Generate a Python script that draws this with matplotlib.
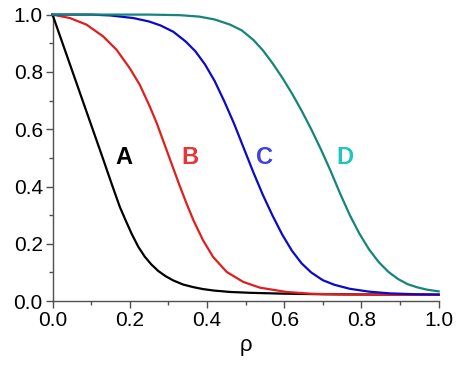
import numpy as np
import matplotlib
matplotlib.use('Agg')
import matplotlib.pyplot as plt
from matplotlib.ticker import MultipleLocator, FormatStrFormatter

# points
rho_a = [0.0, 0.026, 0.052, 0.078, 0.104, 0.130, 0.153, 0.174, 0.190, 0.205, 0.222,
         0.239, 0.256, 0.274, 0.293, 0.313, 0.338, 0.364, 0.390, 0.417, 0.460,
         0.512, 0.600, 0.700, 0.850, 1.0]
val_a = [1.0, 0.90, 0.80, 0.70, 0.60, 0.50, 0.41, 0.33, 0.28, 0.235, 0.19,
         0.155, 0.128, 0.105, 0.087, 0.072, 0.058, 0.049, 0.042, 0.037, 0.032,
         0.029, 0.026, 0.024, 0.023, 0.022]

rho_b = [0.0, 0.045, 0.088, 0.131, 0.166, 0.200, 0.226, 0.252, 0.270, 0.289, 0.308,
         0.327, 0.347, 0.365, 0.390, 0.416, 0.451, 0.494, 0.537, 0.606, 0.667,
         0.750, 0.850, 1.0]
val_b = [1.0, 0.988, 0.965, 0.924, 0.877, 0.813, 0.755, 0.679, 0.621, 0.551, 0.481,
         0.411, 0.341, 0.282, 0.212, 0.154, 0.102, 0.067, 0.047, 0.032, 0.026,
         0.023, 0.022, 0.022]

rho_c = [0.0, 0.10, 0.15, 0.209, 0.25, 0.28, 0.313, 0.345, 0.37, 0.395, 0.42,
         0.445, 0.47, 0.495, 0.52, 0.545, 0.57, 0.595, 0.62, 0.645, 0.67, 0.70,
         0.73, 0.77, 0.82, 0.874, 0.94, 1.0]
val_c = [1.0, 1.0, 0.997, 0.988, 0.976, 0.962, 0.940, 0.906, 0.872, 0.826, 0.768,
         0.697, 0.620, 0.535, 0.450, 0.370, 0.298, 0.232, 0.176, 0.132, 0.100, 0.073,
         0.057, 0.043, 0.033, 0.027, 0.024, 0.023]

rho_d = [0.0, 0.25, 0.33, 0.38, 0.42, 0.46, 0.49, 0.52, 0.545, 0.57, 0.595, 0.62,
         0.645, 0.67, 0.695, 0.72, 0.745, 0.77, 0.795, 0.82, 0.845, 0.87, 0.895,
         0.92, 0.945, 0.97, 1.0]
val_d = [1.0, 1.0, 0.998, 0.993, 0.983, 0.965, 0.945, 0.912, 0.875, 0.83, 0.78, 0.725,
         0.665, 0.60, 0.53, 0.455, 0.375, 0.300, 0.235, 0.180, 0.136, 0.102, 0.077,
         0.059, 0.048, 0.040, 0.034]

names = ['A', 'B', 'C', 'D']
line_cols = ['black', '#e01e1e', '#0a0ac8', '#15857a']
text_cols = ['black', '#e83434', '#4040e0', '#22c4c0']
label_x = [0.185, 0.357, 0.55, 0.758]
label_y = [0.50, 0.50, 0.50, 0.50]

plt.rcParams['font.family'] = ['Liberation Sans', 'DejaVu Sans']

fig = plt.figure(figsize=(4.63, 3.65), dpi=100)
ax = fig.add_axes([0.1134, 0.175, 0.834, 0.785])

curves = [(rho_a, val_a), (rho_b, val_b), (rho_c, val_c), (rho_d, val_d)]
for k in range(4):
    ax.plot(curves[k][0], curves[k][1], color=line_cols[k], lw=1.6,
            zorder=3 + k * 0.1, clip_on=False, solid_joinstyle='round')
    ax.text(label_x[k], label_y[k], names[k], color=text_cols[k], fontsize=17,
            fontweight='bold', ha='center', va='center')

ax.set_xlim(0, 1)
ax.set_ylim(0, 1)
ax.xaxis.set_major_locator(MultipleLocator(0.2))
ax.xaxis.set_minor_locator(MultipleLocator(0.1))
ax.yaxis.set_major_locator(MultipleLocator(0.2))
ax.yaxis.set_minor_locator(MultipleLocator(0.1))
ax.xaxis.set_major_formatter(FormatStrFormatter('%.1f'))
ax.yaxis.set_major_formatter(FormatStrFormatter('%.1f'))

for s in ['top', 'right']:
    ax.spines[s].set_visible(False)
for s in ['left', 'bottom']:
    ax.spines[s].set_color('#505050')
    ax.spines[s].set_linewidth(1.0)
ax.tick_params(which='major', direction='out', length=5, width=1, color='#505050',
               labelsize=15, pad=2)
ax.tick_params(which='minor', direction='out', length=3, width=1, color='#505050')

ax.set_xlabel('ρ', fontsize=16, labelpad=4)

fig.savefig('out.png', dpi=100)
